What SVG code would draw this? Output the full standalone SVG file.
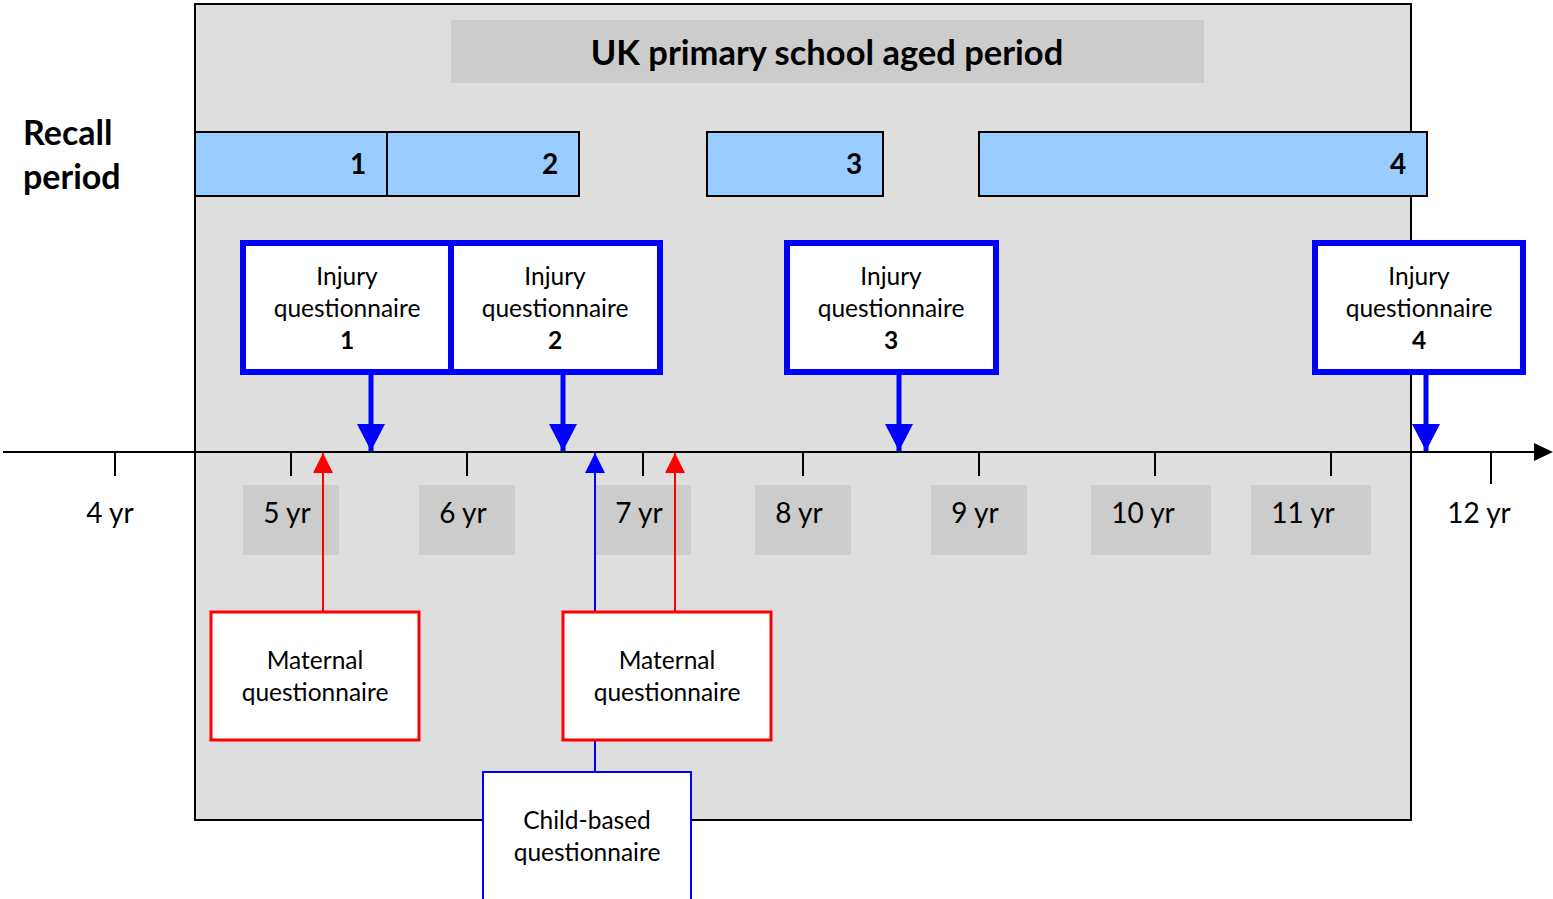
<svg xmlns="http://www.w3.org/2000/svg" width="1553" height="899" viewBox="0 0 1553 899">
<style>
text{font-family:Lato,"Open Sans","Liberation Sans",sans-serif;fill:#000}
.b{font-weight:bold}
.bar{fill:#99ccff;stroke:#000;stroke-width:2}
.inj{fill:#fff;stroke:#0000ff;stroke-width:6}
.mat{fill:#fff;stroke:#ff0000;stroke-width:3}
.yb{fill:#cccccc}
.yr{font-size:28px;text-anchor:middle}
.q{font-size:24.5px;text-anchor:middle}
.tick{stroke:#000;stroke-width:2}
</style>
<defs>
<marker id="ab" markerUnits="userSpaceOnUse" markerWidth="30" markerHeight="28" refX="14" refY="27" orient="0" viewBox="0 0 30 28"><path d="M0,0 L28,0 L14,27 Z" fill="#0000ff"/></marker>
<marker id="ar" markerUnits="userSpaceOnUse" markerWidth="22" markerHeight="22" refX="10" refY="0" orient="0" viewBox="0 0 22 22"><path d="M10,0 L20,20 L0,20 Z" fill="#ff0000"/></marker>
<marker id="abu" markerUnits="userSpaceOnUse" markerWidth="22" markerHeight="22" refX="10" refY="0" orient="0" viewBox="0 0 22 22"><path d="M10,0 L20,20 L0,20 Z" fill="#0000ff"/></marker>
</defs>
<rect x="195" y="4" width="1216" height="816" fill="#dedede" stroke="#000" stroke-width="2"/>
<g id="title">
<rect x="451" y="20" width="753" height="63" fill="#cccccc"/>
<text x="827" y="65" class="b" font-size="34.5" text-anchor="middle">UK primary school aged period</text>
</g>
<g id="recall-label">
<text x="23" y="145" class="b" font-size="34">Recall</text>
<text x="23" y="189" class="b" font-size="34">period</text>
</g>
<g id="recall-1"><rect class="bar" x="195" y="132" width="192" height="64"/><text x="358" y="174" class="b" font-size="28" text-anchor="middle">1</text></g>
<g id="recall-2"><rect class="bar" x="387" y="132" width="192" height="64"/><text x="550" y="174" class="b" font-size="28" text-anchor="middle">2</text></g>
<g id="recall-3"><rect class="bar" x="707" y="132" width="176" height="64"/><text x="854" y="174" class="b" font-size="28" text-anchor="middle">3</text></g>
<g id="recall-4"><rect class="bar" x="979" y="132" width="448" height="64"/><text x="1398" y="174" class="b" font-size="28" text-anchor="middle">4</text></g>
<g id="axis">
<line x1="3" y1="452" x2="1536" y2="452" stroke="#000" stroke-width="2"/>
<path d="M1534,443 L1553,452 L1534,461 Z" fill="#000"/>
<line class="tick" x1="115" y1="452" x2="115" y2="476"/>
<line class="tick" x1="291" y1="452" x2="291" y2="476"/>
<line class="tick" x1="467" y1="452" x2="467" y2="476"/>
<line class="tick" x1="643" y1="452" x2="643" y2="476"/>
<line class="tick" x1="803" y1="452" x2="803" y2="476"/>
<line class="tick" x1="979" y1="452" x2="979" y2="476"/>
<line class="tick" x1="1155" y1="452" x2="1155" y2="476"/>
<line class="tick" x1="1331" y1="452" x2="1331" y2="476"/>
<line class="tick" x1="1491" y1="452" x2="1491" y2="484"/>
</g>
<g id="years">
<text x="110" y="523" class="yr">4 yr</text>
<rect class="yb" x="243" y="485" width="96" height="70"/><text x="287" y="523" class="yr">5 yr</text>
<rect class="yb" x="419" y="485" width="96" height="70"/><text x="463" y="523" class="yr">6 yr</text>
<rect class="yb" x="595" y="485" width="96" height="70"/><text x="639" y="523" class="yr">7 yr</text>
<rect class="yb" x="755" y="485" width="96" height="70"/><text x="799" y="523" class="yr">8 yr</text>
<rect class="yb" x="931" y="485" width="96" height="70"/><text x="975" y="523" class="yr">9 yr</text>
<rect class="yb" x="1091" y="485" width="120" height="70"/><text x="1143" y="523" class="yr">10 yr</text>
<rect class="yb" x="1251" y="485" width="120" height="70"/><text x="1303" y="523" class="yr">11 yr</text>
<text x="1479" y="523" class="yr">12 yr</text>
</g>
<g id="connectors">
<line x1="371" y1="372" x2="371" y2="451" stroke="#0000ff" stroke-width="5" marker-end="url(#ab)"/>
<line x1="563" y1="372" x2="563" y2="451" stroke="#0000ff" stroke-width="5" marker-end="url(#ab)"/>
<line x1="899" y1="372" x2="899" y2="451" stroke="#0000ff" stroke-width="5" marker-end="url(#ab)"/>
<line x1="1426" y1="372" x2="1426" y2="451" stroke="#0000ff" stroke-width="5" marker-end="url(#ab)"/>
<line x1="323" y1="612" x2="323" y2="453" stroke="#ff0000" stroke-width="2" marker-end="url(#ar)"/>
<line x1="675" y1="612" x2="675" y2="453" stroke="#ff0000" stroke-width="2" marker-end="url(#ar)"/>
<line x1="595" y1="612" x2="595" y2="453" stroke="#0000ff" stroke-width="2" marker-end="url(#abu)"/>
<line x1="595" y1="740" x2="595" y2="772" stroke="#0000ff" stroke-width="2"/>
</g>
<g id="injury-1"><rect class="inj" x="243" y="243" width="208" height="129"/>
<text x="347" y="285" class="q">Injury</text><text x="347" y="317" class="q">questionnaire</text><text x="347" y="349" class="q b">1</text></g>
<g id="injury-2"><rect class="inj" x="451" y="243" width="209" height="129"/>
<text x="555" y="285" class="q">Injury</text><text x="555" y="317" class="q">questionnaire</text><text x="555" y="349" class="q b">2</text></g>
<g id="injury-3"><rect class="inj" x="787" y="243" width="209" height="129"/>
<text x="891" y="285" class="q">Injury</text><text x="891" y="317" class="q">questionnaire</text><text x="891" y="349" class="q b">3</text></g>
<g id="injury-4"><rect class="inj" x="1315" y="243" width="208" height="129"/>
<text x="1419" y="285" class="q">Injury</text><text x="1419" y="317" class="q">questionnaire</text><text x="1419" y="349" class="q b">4</text></g>
<g id="maternal-1"><rect class="mat" x="211" y="612" width="208" height="128"/>
<text x="315" y="669" class="q">Maternal</text><text x="315" y="701" class="q">questionnaire</text></g>
<g id="maternal-2"><rect class="mat" x="563" y="612" width="208" height="128"/>
<text x="667" y="669" class="q">Maternal</text><text x="667" y="701" class="q">questionnaire</text></g>
<g id="child-based"><rect x="483" y="772" width="208" height="140" fill="#fff" stroke="#0000ff" stroke-width="2"/>
<text x="587" y="829" class="q">Child-based</text><text x="587" y="861" class="q">questionnaire</text></g>
</svg>
